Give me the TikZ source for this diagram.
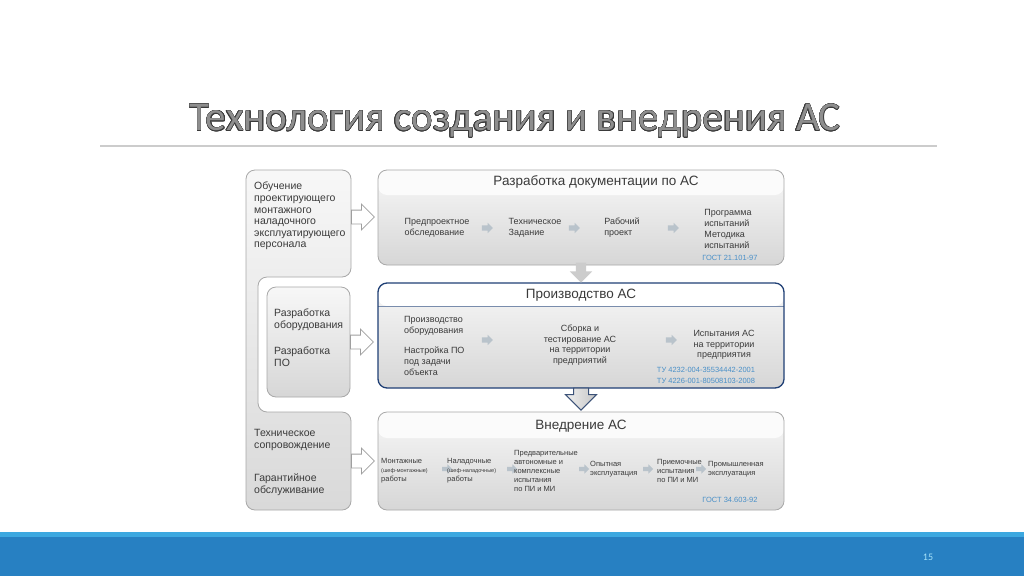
\documentclass[tikz,border=0pt]{standalone}
\usepackage{fontspec}
\setmainfont{Liberation Sans}
\newfontfamily\titlefont{Carlito}
\usepackage[copies]{contour}
\usetikzlibrary{shapes.arrows}
\definecolor{txt}{HTML}{3A3A3A}
\definecolor{bord}{HTML}{A8A8A8}
\definecolor{navy}{HTML}{1F3F75}
\definecolor{gostc}{HTML}{4A90C8}
\definecolor{barblue}{HTML}{2780C2}
\definecolor{barlight}{HTML}{3CA8E0}
\definecolor{sarr}{HTML}{B9C3CB}
\definecolor{titlegray}{HTML}{8E8E8E}
\definecolor{titleedge}{HTML}{3A3A3A}
\contourlength{0.35pt}
\begin{document}
\begin{tikzpicture}[x=1pt,y=-1pt,
 every node/.style={text=txt, inner sep=0pt},
 item/.style={font=\fontsize{9}{11}\selectfont, align=left},
 itemc/.style={font=\fontsize{9}{10.5}\selectfont, align=center},
 tinytxt/.style={font=\fontsize{7.5}{9}\selectfont, align=left, anchor=west},
 gost/.style={text=gostc, font=\fontsize{7.5}{11}\selectfont},
 lefttxt/.style={font=\fontsize{10.5}{11.6}\selectfont, align=left, anchor=north west},
 head/.style={font=\fontsize{13.5}{16}\selectfont},
 panel/.style={draw=bord, line width=0.8pt, rounded corners=9pt, top color=gray!6, bottom color=gray!32},
 smallarr/.style={single arrow, fill=sarr, draw=none, inner xsep=0pt, inner ysep=2.5pt, minimum height=11pt, single arrow head extend=2.5pt},
 blockarr/.style={single arrow, fill=white, draw=gray!75, line width=0.8pt, inner xsep=0pt, inner ysep=6.5pt, minimum height=23pt, single arrow head extend=6pt},
]
% background
\fill[white] (0,0) rectangle (1024,576);
% title
\node[font=\titlefont\fontsize{41}{48}\selectfont] (title) at (515,121)
  {\contour{titleedge}{\textcolor{titlegray}{Технология создания и внедрения АС}}};
\draw[gray!40, line width=1.5pt] (100,146) coordinate (rl) -- (937,146) coordinate (rr);
% bottom bar
\fill[barblue] (0,532) rectangle (1024,576);
\fill[barlight] (0,532) rectangle (1024,537);
\node[text=cyan!35, font=\titlefont\fontsize{10}{11}\selectfont] (pnum) at (928,557) {15};

% left panel
\path[draw=bord, line width=0.8pt, top color=gray!6, bottom color=gray!30, rounded corners=9pt]
  (246,170) -- (351,170) -- (351,277) -- (258,277) -- (258,412) -- (351,412) -- (351,510) -- (246,510) -- cycle;
\path[draw=bord, line width=0.8pt, top color=gray!6, bottom color=gray!32, rounded corners=9pt]
  (267,287) rectangle (350,397);
\coordinate (lp1) at (351,217);
\coordinate (lp2) at (350,342);
\coordinate (lp3) at (351,461);
\node[lefttxt] (l1) at (254,182) {Обучение\\проектирующего\\монтажного\\наладочного\\эксплуатирующего\\персонала};
\node[lefttxt] (l2a) at (274,308.5) {Разработка\\оборудования};
\node[lefttxt] (l2b) at (274,347) {Разработка\\ПО};
\node[lefttxt] (l3a) at (254,429.5) {Техническое\\сопровождение};
\node[lefttxt] (l3b) at (254,473.5) {Гарантийное\\обслуживание};

% box 1
\node[panel, minimum width=406pt, minimum height=95pt,
  path picture={\fill[gray!3] (path picture bounding box.north west) rectangle ([yshift=-25pt]path picture bounding box.north east);}]
  (b1) at (581,217.5) {};
\node[head] (h1) at (596,182) {Разработка документации по АС};
\node[item] (i11) at (437,228) {Предпроектное\\обследование};
\node[smallarr] (a11) at (486,228) {};
\node[item] (i12) at (535,228) {Техническое\\Задание};
\node[smallarr] (a12) at (573,228) {};
\node[item] (i13) at (622,228) {Рабочий\\проект};
\node[smallarr] (a13) at (672,228) {};
\node[item] (i14) at (728,229) {Программа\\испытаний\\Методика\\испытаний};
\node[gost] (g1) at (730,258) {ГОСТ 21.101-97};

% box 2
\node[draw=navy, line width=1.3pt, rounded corners=9pt, top color=gray!6, bottom color=gray!32,
  minimum width=406pt, minimum height=105pt,
  path picture={\fill[white] (path picture bounding box.north west) rectangle ([yshift=-23pt]path picture bounding box.north east);
   \draw[navy!60, line width=0.6pt] ([yshift=-23pt]path picture bounding box.north west) -- ([yshift=-23pt]path picture bounding box.north east);}]
  (b2) at (581,335.5) {};
\node[head] (h2) at (581,295) {Производство АС};
\node[item, anchor=west] (i21) at (404,325.5) {Производство\\оборудования};
\node[item, anchor=west] (i22) at (404,361.5) {Настройка ПО\\под задачи\\объекта};
\node[smallarr] (a21) at (486,340) {};
\node[itemc] (i23) at (580,345) {Сборка и\\тестирование АС\\на территории\\предприятий};
\node[smallarr] (a22) at (670,340) {};
\node[itemc] (i24) at (724,345) {Испытания АС\\на территории\\предприятия};
\node[gost] (g21) at (706,370) {ТУ 4232-004-35534442-2001};
\node[gost] (g22) at (706,381) {ТУ 4226-001-80508103-2008};

% box 3
\node[panel, minimum width=406pt, minimum height=98pt,
  path picture={\fill[gray!3] (path picture bounding box.north west) rectangle ([yshift=-26pt]path picture bounding box.north east);}]
  (b3) at (581,461) {};
\node[head] (h3) at (581,426) {Внедрение АС};
\node[tinytxt] (i31) at (381,470.5) {Монтажные\\{\fontsize{5.5}{7.5}\selectfont(шеф-монтажные)}\\работы};
\node[smallarr, minimum height=10pt, inner ysep=2pt] (a31) at (446,469) {};
\node[tinytxt] (i32) at (447,470.5) {Наладочные\\{\fontsize{5.5}{7.5}\selectfont(шеф-наладочные)}\\работы};
\node[smallarr, minimum height=10pt, inner ysep=2pt] (a32) at (511,469) {};
\node[tinytxt] (i33) at (514,471) {Предварительные\\автономные и\\комплексные\\испытания\\по ПИ и МИ};
\node[smallarr, minimum height=10pt, inner ysep=2pt] (a33) at (583,469) {};
\node[tinytxt] (i34) at (590,469) {Опытная\\эксплуатация};
\node[smallarr, minimum height=10pt, inner ysep=2pt] (a34) at (647,469) {};
\node[tinytxt] (i35) at (657,471) {Приемочные\\испытания\\по ПИ и МИ};
\node[smallarr, minimum height=10pt, inner ysep=2pt] (a35) at (700,469) {};
\node[tinytxt] (i36) at (708,469) {Промышленная\\эксплуатация};
\node[gost] (g3) at (730,500) {ГОСТ 34.603-92};

% connectors between left panel and boxes
\node[blockarr, anchor=tail] (ba1) at (lp1) {};
\node[blockarr, anchor=tail] (ba2) at (lp2) {};
\node[blockarr, anchor=tail] (ba3) at (lp3) {};
% down arrows
\node[single arrow, rotate=-90, fill=gray!40, draw=none, inner xsep=0pt, inner ysep=5pt, minimum height=20pt,
  single arrow head extend=6pt, anchor=tail] (d1) at ([yshift=3pt]b1.south) {};
\node[single arrow, rotate=-90, left color=gray!12, right color=gray!45, draw=navy!70!gray, line width=1pt,
  inner xsep=0pt, inner ysep=7pt, minimum height=22pt, single arrow head extend=8pt, anchor=tail] (d2) at ([yshift=1pt]b2.south) {};
\end{tikzpicture}
\end{document}
